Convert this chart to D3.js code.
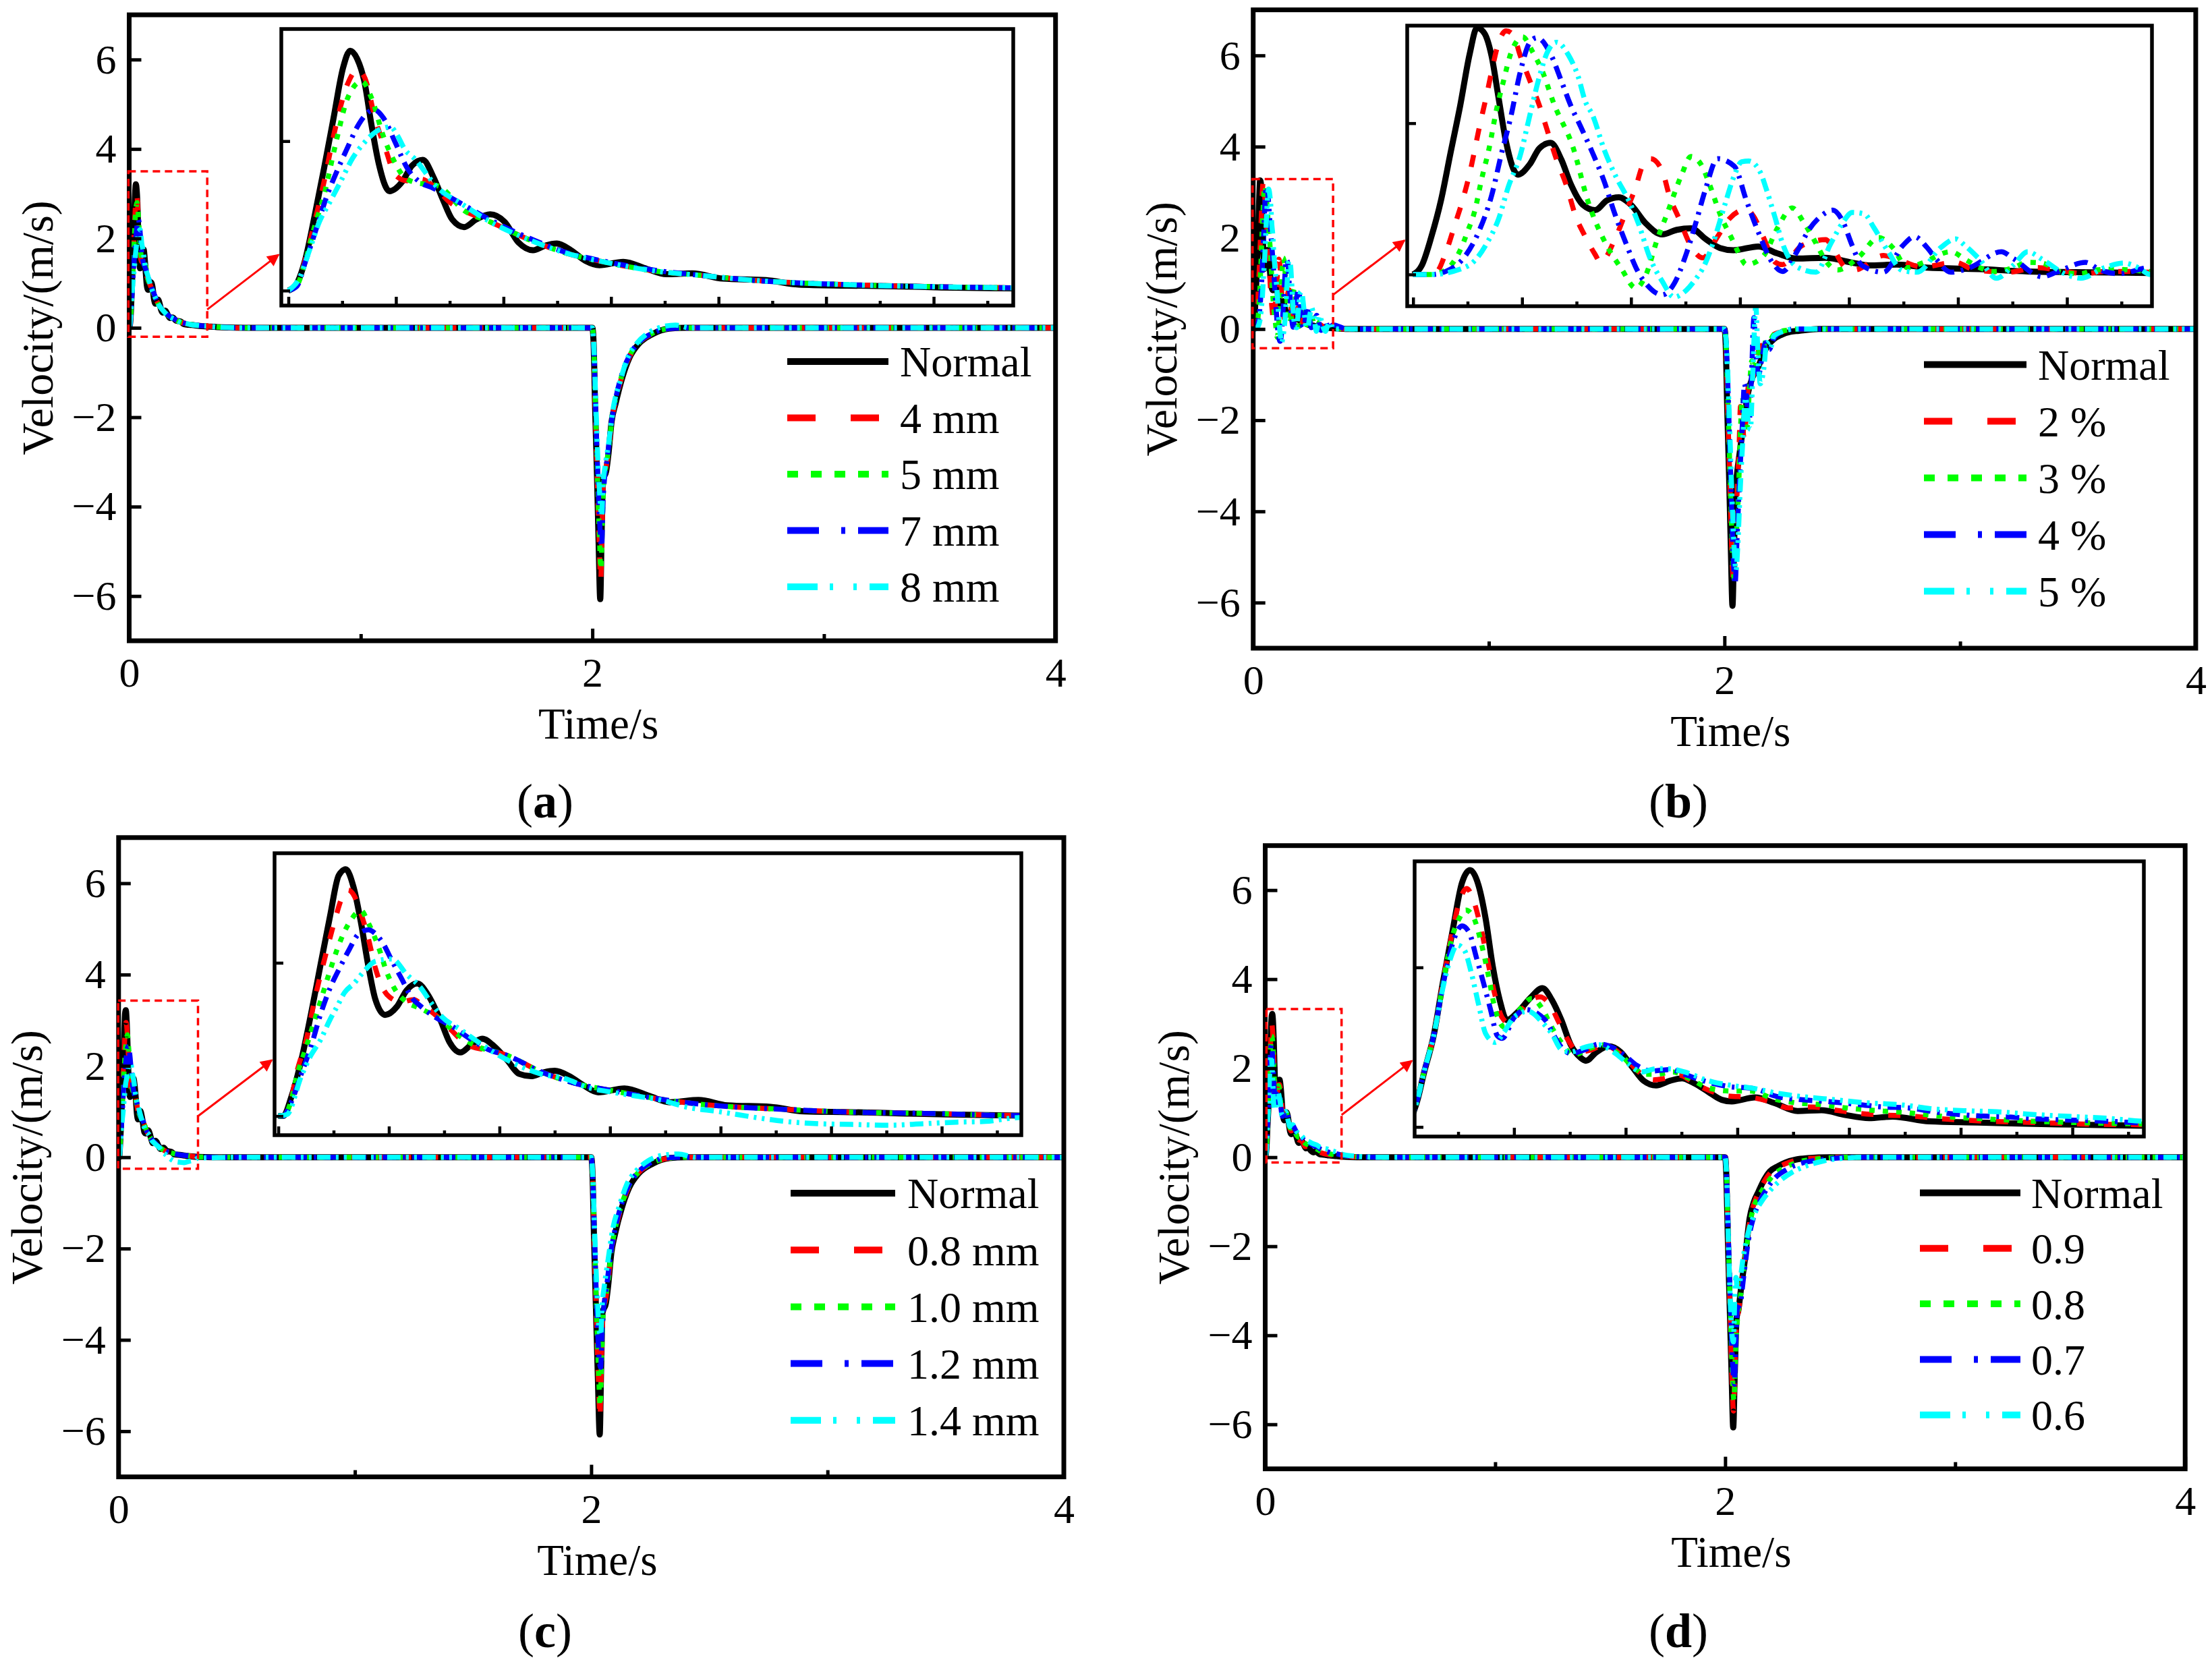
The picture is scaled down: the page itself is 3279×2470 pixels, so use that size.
<!DOCTYPE html>
<html>
<head>
<meta charset="utf-8">
<script src="https://cdn.jsdelivr.net/npm/d3@7"></script>
<style>
  body { margin: 0; background: #fff; }
  svg { display: block; }
  text { font-family: "Liberation Serif", "Times New Roman", serif; fill: #000; }
</style>
</head>
<body>
<svg id="chart" width="3279" height="2470"></svg>
<script>
// ---- data: [time (s), velocity (m/s)] ----

const aNormal = [[0,0],[0.004,0.1],[0.0077,0.4],[0.0122,1.0],[0.0166,1.64],[0.021,2.31],[0.0254,2.98],[0.0287,3.21],[0.032,3.1],[0.0353,2.8],[0.0386,2.22],[0.042,1.7],[0.047,1.33],[0.053,1.46],[0.0574,1.67],[0.0625,1.75],[0.0674,1.52],[0.0718,1.22],[0.0762,0.95],[0.0817,0.85],[0.0872,0.95],[0.0938,1.02],[0.1005,0.92],[0.1071,0.64],[0.1137,0.54],[0.1192,0.6],[0.1248,0.63],[0.1314,0.54],[0.138,0.4],[0.1446,0.34],[0.1557,0.385],[0.1667,0.29],[0.1756,0.22],[0.1877,0.23],[0.202,0.16],[0.222,0.14],[0.2374,0.08],[0.2595,0.067],[0.2815,0.058],[0.3036,0.042],[0.337,0.03],[0.4,0.01],[0.5,0],
  [2.0,0],[2.005,-0.3],[2.012,-1.8],[2.02,-3.3],[2.027,-4.8],[2.034,-6.07],[2.04,-4.6],[2.046,-3.4],[2.06,-3.2],[2.07,-2.8],[2.083,-2.1],[2.1,-1.7],[2.13,-1.1],[2.16,-0.67],[2.2,-0.36],[2.26,-0.14],[2.33,-0.02],[2.4,0],[4,0]];
const a4mm = [[0,0],[0.004,0.08],[0.0077,0.4],[0.0122,0.92],[0.0166,1.46],[0.021,2.07],[0.0276,2.77],[0.032,2.95],[0.0353,2.86],[0.0408,2.25],[0.0452,1.89],[0.0496,1.55],[0.0552,1.47],[0.0618,1.49],[0.0674,1.4],[0.0751,1.18],[0.0817,1.07],[0.0938,0.92],[0.1137,0.66],[0.127,0.52],[0.149,0.37],[0.171,0.26],[0.1932,0.2],[0.2153,0.14],[0.2595,0.08],[0.3036,0.05],[0.337,0.036],[0.4,0.01],[0.5,0],
  [2.0,0],[2.006,-0.4],[2.013,-1.9],[2.021,-3.3],[2.029,-4.7],[2.036,-5.65],[2.042,-4.5],[2.048,-3.4],[2.06,-3.1],[2.07,-2.75],[2.083,-2.1],[2.1,-1.65],[2.13,-1.05],[2.16,-0.65],[2.2,-0.35],[2.26,-0.13],[2.33,-0.02],[2.4,0],[4,0]];
const a5mm = [[0,0],[0.004,0.07],[0.0077,0.38],[0.0122,0.86],[0.0166,1.28],[0.0221,1.98],[0.0276,2.58],[0.0342,2.8],[0.0386,2.58],[0.0441,2.07],[0.0485,1.77],[0.0529,1.55],[0.0585,1.45],[0.0696,1.4],[0.0817,1.07],[0.0938,0.92],[0.1137,0.66],[0.127,0.52],[0.149,0.37],[0.171,0.26],[0.1932,0.2],[0.2153,0.14],[0.2595,0.08],[0.3036,0.05],[0.337,0.036],[0.4,0.01],[0.5,0],
  [2.0,0],[2.006,-0.4],[2.014,-1.9],[2.022,-3.3],[2.03,-4.6],[2.037,-5.4],[2.043,-4.4],[2.05,-3.4],[2.062,-3.0],[2.072,-2.65],[2.085,-2.0],[2.1,-1.6],[2.13,-1.02],[2.16,-0.63],[2.2,-0.34],[2.26,-0.12],[2.33,-0.02],[2.4,0],[4,0]];
const a7mm = [[0,0],[0.004,0.06],[0.0077,0.37],[0.0122,0.76],[0.0177,1.25],[0.0232,1.64],[0.0276,1.92],[0.032,2.19],[0.0398,2.42],[0.0442,2.31],[0.0497,1.98],[0.0552,1.64],[0.0607,1.46],[0.0674,1.37],[0.0806,1.16],[0.0917,0.98],[0.1137,0.68],[0.127,0.53],[0.149,0.38],[0.171,0.27],[0.1932,0.2],[0.2153,0.14],[0.2595,0.08],[0.3036,0.05],[0.337,0.036],[0.4,0.01],[0.5,0],
  [2.0,0],[2.006,-0.4],[2.014,-1.8],[2.023,-3.2],[2.032,-4.4],[2.04,-4.9],[2.046,-3.9],[2.052,-3.4],[2.065,-2.9],[2.08,-2.2],[2.1,-1.6],[2.13,-1.0],[2.16,-0.62],[2.2,-0.33],[2.26,-0.12],[2.33,-0.02],[2.4,0],[4,0]];
const a8mm = [[0,0],[0.0055,0.19],[0.0099,0.55],[0.0144,0.92],[0.0188,1.16],[0.0243,1.46],[0.0298,1.77],[0.0353,1.98],[0.0409,2.13],[0.0475,2.19],[0.0508,2.07],[0.0541,1.89],[0.0585,1.77],[0.0696,1.37],[0.0806,1.16],[0.0938,0.92],[0.1137,0.66],[0.127,0.52],[0.149,0.37],[0.171,0.26],[0.1932,0.2],[0.2153,0.14],[0.2595,0.08],[0.3036,0.05],[0.337,0.036],[0.4,0.01],[0.5,0],
  [2.0,0],[2.006,-0.35],[2.015,-1.7],[2.025,-3.1],[2.034,-3.9],[2.04,-4.2],[2.046,-3.5],[2.055,-3.1],[2.07,-2.6],[2.09,-1.8],[2.12,-1.2],[2.15,-0.7],[2.19,-0.36],[2.24,-0.12],[2.3,0.02],[2.36,0.06],[2.42,0],[4,0]];

const bNormal = [[0,0],[0.004,0.12],[0.0084,0.5],[0.0128,0.98],[0.0172,1.61],[0.0216,2.23],[0.026,2.92],[0.0293,3.26],[0.0327,3.19],[0.036,2.89],[0.0393,2.32],[0.0426,1.76],[0.0481,1.32],[0.0536,1.46],[0.058,1.67],[0.0631,1.74],[0.068,1.52],[0.0724,1.19],[0.0779,0.92],[0.0834,0.85],[0.089,0.98],[0.0944,1.02],[0.1,0.92],[0.1066,0.68],[0.1143,0.53],[0.121,0.59],[0.1275,0.61],[0.1342,0.47],[0.1408,0.35],[0.147,0.32],[0.1584,0.37],[0.167,0.28],[0.176,0.21],[0.189,0.22],[0.2026,0.15],[0.209,0.12],[0.222,0.13],[0.2357,0.09],[0.26,0.07],[0.282,0.04],[0.304,0.03],[0.338,0.02],[0.4,0],[0.5,0],
  [2.0,0],[2.005,-0.3],[2.012,-1.8],[2.02,-3.3],[2.027,-4.8],[2.034,-6.07],[2.041,-4.7],[2.048,-3.5],[2.054,-3.14],[2.065,-2.7],[2.075,-2.3],[2.087,-1.86],[2.1,-1.4],[2.12,-1.05],[2.144,-0.82],[2.165,-0.55],[2.182,-0.38],[2.21,-0.22],[2.24,-0.13],[2.28,-0.06],[2.316,-0.04],[2.4,0],[4,0]];
const b2pct = [[0,0],[0.004,0],[0.0106,0.03],[0.015,0.29],[0.0194,0.68],[0.0227,0.98],[0.026,1.34],[0.0305,1.96],[0.0338,2.38],[0.036,2.68],[0.0393,3.07],[0.0426,3.22],[0.0459,3.17],[0.0492,2.89],[0.0536,2.56],[0.058,2.23],[0.0613,1.93],[0.0658,1.52],[0.0702,1.19],[0.0746,0.77],[0.079,0.5],[0.0834,0.27],[0.0861,0.16],[0.0922,0.44],[0.0977,0.83],[0.1022,1.16],[0.1055,1.45],[0.109,1.53],[0.1143,1.37],[0.1176,1.04],[0.122,0.74],[0.1286,0.32],[0.133,0.22],[0.1397,0.5],[0.1452,0.74],[0.1529,0.86],[0.1562,0.77],[0.1606,0.5],[0.1662,0.16],[0.1695,0.13],[0.1783,0.38],[0.1893,0.46],[0.1926,0.35],[0.1981,0.1],[0.2026,0.06],[0.2158,0.25],[0.2224,0.2],[0.2335,0.1],[0.2489,0.16],[0.2577,0.06],[0.2732,0.03],[0.2864,0.09],[0.2952,0.06],[0.3085,0.01],[0.3173,0.04],[0.3261,0.04],[0.3372,0.03],[0.4,0],[0.5,0],
  [2.0,0],[2.007,-0.5],[2.015,-2.0],[2.024,-3.6],[2.032,-5.0],[2.039,-5.6],[2.046,-4.6],[2.055,-3.4],[2.062,-2.6],[2.068,-1.7],[2.075,-1.9],[2.083,-2.4],[2.092,-1.9],[2.1,-1.3],[2.11,-0.95],[2.12,-1.05],[2.132,-0.75],[2.15,-0.4],[2.17,-0.32],[2.2,-0.15],[2.25,-0.05],[2.32,0],[4,0]];
const b3pct = [[0,0],[0.0084,0],[0.015,0.06],[0.0216,0.32],[0.0249,0.56],[0.0282,0.83],[0.0316,1.28],[0.0349,1.67],[0.0382,2.17],[0.0415,2.56],[0.0448,2.92],[0.0503,3.14],[0.0547,2.95],[0.0591,2.7],[0.0647,2.25],[0.0735,1.67],[0.0801,0.98],[0.0889,0.38],[0.0955,0.08],[0.1022,-0.18],[0.1066,-0.02],[0.1121,0.47],[0.1165,0.8],[0.1231,1.31],[0.1275,1.56],[0.132,1.46],[0.1364,1.16],[0.1408,0.8],[0.1463,0.47],[0.1496,0.27],[0.1529,0.13],[0.1606,0.24],[0.1673,0.62],[0.1739,0.88],[0.1794,0.68],[0.1849,0.41],[0.1893,0.18],[0.1948,0.06],[0.2048,0.24],[0.2136,0.49],[0.2202,0.35],[0.2268,0.09],[0.2335,0.15],[0.2467,0.3],[0.2533,0.2],[0.2599,0.09],[0.2666,0.04],[0.2754,0.09],[0.282,0.16],[0.2886,0.15],[0.2975,0.03],[0.3063,0.01],[0.313,0.06],[0.3217,0.07],[0.3372,0.04],[0.4,0],[0.5,0],
  [2.0,0],[2.008,-0.5],[2.017,-2.0],[2.026,-3.6],[2.035,-5.0],[2.042,-5.5],[2.05,-4.6],[2.06,-3.5],[2.068,-2.2],[2.076,-1.5],[2.086,-2.0],[2.096,-2.15],[2.106,-1.3],[2.116,-0.7],[2.126,-0.9],[2.14,-0.62],[2.16,-0.3],[2.18,-0.36],[2.21,-0.12],[2.26,-0.03],[2.32,0],[4,0]];
const b4pct = [[0,0],[0.0084,0],[0.0172,0.07],[0.0238,0.24],[0.0305,0.59],[0.036,1.04],[0.0404,1.58],[0.0448,2.08],[0.0492,2.68],[0.0536,3.07],[0.0569,3.13],[0.0635,2.89],[0.068,2.56],[0.0724,2.23],[0.0768,1.96],[0.0823,1.61],[0.0878,1.22],[0.0922,0.83],[0.0977,0.41],[0.1033,0.03],[0.1077,-0.15],[0.1143,-0.27],[0.1198,-0.12],[0.1253,0.27],[0.1297,0.68],[0.1342,1.13],[0.1397,1.53],[0.1474,1.43],[0.1529,0.98],[0.1584,0.56],[0.165,0.15],[0.1695,0.04],[0.1761,0.3],[0.1816,0.59],[0.1871,0.77],[0.1926,0.85],[0.197,0.71],[0.2015,0.38],[0.2059,0.12],[0.2158,0.03],[0.2246,0.38],[0.2301,0.5],[0.2357,0.36],[0.2401,0.2],[0.2467,0.03],[0.2555,0.09],[0.2699,0.3],[0.2754,0.21],[0.2886,-0.03],[0.2952,0.03],[0.3085,0.16],[0.3151,0.06],[0.3239,0.01],[0.3383,0.09],[0.4,0],[0.5,0],
  [2.0,0],[2.009,-0.5],[2.019,-2.0],[2.029,-3.7],[2.038,-5.1],[2.045,-5.6],[2.054,-4.5],[2.065,-3.2],[2.075,-2.2],[2.085,-1.2],[2.095,-1.6],[2.105,-2.0],[2.115,-1.0],[2.125,0.25],[2.133,-0.5],[2.145,-1.0],[2.16,-0.6],[2.175,-0.3],[2.19,-0.45],[2.21,-0.2],[2.25,-0.05],[2.3,0],[4,0]];
const b5pct = [[0,0],[0.0084,0],[0.0216,0.07],[0.0282,0.18],[0.0338,0.41],[0.0393,0.74],[0.0437,1.16],[0.0492,1.58],[0.0536,2.11],[0.058,2.62],[0.0613,2.92],[0.0658,3.07],[0.0713,2.9],[0.0757,2.62],[0.079,2.29],[0.0823,2.11],[0.0878,1.64],[0.0933,1.28],[0.0989,0.98],[0.1033,0.68],[0.1088,0.21],[0.1143,-0.09],[0.1198,-0.3],[0.1253,-0.21],[0.1297,-0.06],[0.1331,0.09],[0.1386,0.5],[0.143,0.92],[0.1474,1.31],[0.1507,1.49],[0.154,1.5],[0.1595,1.34],[0.1617,1.16],[0.1662,0.74],[0.1695,0.41],[0.1761,0.1],[0.1849,0.03],[0.1915,0.4],[0.197,0.68],[0.2015,0.82],[0.207,0.8],[0.2114,0.62],[0.218,0.3],[0.2246,0.05],[0.2312,0.03],[0.2423,0.36],[0.2489,0.47],[0.2533,0.38],[0.2599,0.2],[0.2677,-0.05],[0.2754,0.12],[0.282,0.3],[0.2886,0.2],[0.2997,0],[0.3063,-0.05],[0.3173,0.09],[0.3261,0.15],[0.3327,0.09],[0.3383,0],[0.4,0],[0.5,0],
  [2.0,0],[2.01,-0.5],[2.021,-2.0],[2.032,-3.7],[2.042,-4.9],[2.049,-5.3],[2.056,-4.8],[2.066,-3.6],[2.076,-2.6],[2.09,-1.5],[2.1,-2.0],[2.11,-2.2],[2.12,-1.0],[2.133,0.5],[2.141,-0.4],[2.152,-1.2],[2.166,-0.9],[2.18,-0.3],[2.195,-0.42],[2.21,-0.15],[2.25,-0.05],[2.3,0],[4,0]];

const cNormal = [[0,0],[0.0022,0],[0.006,0.26],[0.0104,0.73],[0.0147,1.32],[0.019,1.96],[0.0234,2.61],[0.0273,3.14],[0.0305,3.22],[0.034,2.99],[0.0374,2.52],[0.0407,1.96],[0.0439,1.52],[0.0483,1.32],[0.0537,1.43],[0.058,1.64],[0.0628,1.73],[0.0677,1.58],[0.0732,1.26],[0.0775,0.96],[0.0823,0.83],[0.0872,0.93],[0.0922,1.01],[0.098,0.9],[0.1035,0.73],[0.1089,0.55],[0.1143,0.52],[0.12,0.57],[0.125,0.59],[0.1316,0.52],[0.138,0.4],[0.1446,0.31],[0.1565,0.36],[0.168,0.26],[0.177,0.18],[0.19,0.21],[0.203,0.14],[0.2225,0.12],[0.2377,0.06],[0.259,0.05],[0.281,0.035],[0.3026,0.02],[0.335,0.006],[0.4,0],[0.5,0],
  [2.0,0],[2.005,-0.3],[2.012,-1.8],[2.02,-3.3],[2.028,-4.8],[2.036,-6.07],[2.042,-4.6],[2.048,-3.4],[2.062,-3.2],[2.072,-2.8],[2.085,-2.1],[2.1,-1.7],[2.13,-1.1],[2.16,-0.67],[2.2,-0.36],[2.26,-0.14],[2.33,-0.02],[2.4,0],[4,0]];
const c08mm = [[0,0],[0.0022,0],[0.006,0.24],[0.0082,0.55],[0.0126,0.99],[0.0169,1.58],[0.0212,2.08],[0.0255,2.55],[0.0288,2.85],[0.0316,2.95],[0.0342,2.88],[0.0374,2.64],[0.0407,2.32],[0.0439,1.93],[0.0472,1.67],[0.0504,1.55],[0.0558,1.49],[0.0613,1.52],[0.0645,1.46],[0.071,1.32],[0.0775,1.14],[0.0861,0.92],[0.098,0.84],[0.1035,0.79],[0.1186,0.58],[0.1338,0.43],[0.1511,0.33],[0.1684,0.24],[0.1857,0.17],[0.2052,0.12],[0.2268,0.09],[0.2593,0.05],[0.2918,0.035],[0.3351,0.006],[0.4,0],[0.5,0],
  [2.0,0],[2.006,-0.4],[2.013,-1.9],[2.021,-3.3],[2.03,-4.8],[2.037,-5.7],[2.043,-4.5],[2.05,-3.4],[2.062,-3.1],[2.072,-2.7],[2.085,-2.05],[2.1,-1.65],[2.13,-1.05],[2.16,-0.64],[2.2,-0.34],[2.26,-0.13],[2.33,-0.02],[2.4,0],[4,0]];
const c10mm = [[0,0],[0.0022,0],[0.006,0.22],[0.0082,0.5],[0.0126,0.9],[0.019,1.49],[0.0234,1.9],[0.0277,2.26],[0.032,2.52],[0.0374,2.68],[0.0407,2.52],[0.045,2.23],[0.0494,1.85],[0.0537,1.61],[0.058,1.49],[0.0645,1.4],[0.0732,1.26],[0.0818,1.05],[0.0905,0.9],[0.098,0.84],[0.1035,0.79],[0.1186,0.58],[0.1338,0.43],[0.1511,0.33],[0.1684,0.24],[0.1857,0.17],[0.2052,0.12],[0.2268,0.09],[0.2593,0.05],[0.2918,0.035],[0.3351,0.006],[0.4,0],[0.5,0],
  [2.0,0],[2.006,-0.4],[2.014,-1.9],[2.022,-3.3],[2.031,-4.7],[2.038,-5.45],[2.044,-4.4],[2.051,-3.4],[2.063,-3.0],[2.073,-2.65],[2.086,-2.0],[2.1,-1.6],[2.13,-1.02],[2.16,-0.62],[2.2,-0.33],[2.26,-0.12],[2.33,-0.02],[2.4,0],[4,0]];
const c12mm = [[0,0],[0.0022,0],[0.0061,0.2],[0.0104,0.55],[0.0147,0.9],[0.019,1.32],[0.0234,1.67],[0.0277,1.93],[0.032,2.17],[0.0364,2.38],[0.0407,2.43],[0.0439,2.38],[0.0472,2.26],[0.0515,2.02],[0.0558,1.79],[0.0602,1.55],[0.0645,1.43],[0.071,1.29],[0.0786,1.17],[0.0861,1.02],[0.0948,0.87],[0.1035,0.79],[0.1186,0.58],[0.1338,0.43],[0.1511,0.33],[0.1684,0.24],[0.1857,0.17],[0.2052,0.12],[0.2268,0.09],[0.2593,0.05],[0.2918,0.035],[0.3351,0.006],[0.4,0],[0.5,0],
  [2.0,0],[2.006,-0.4],[2.014,-1.8],[2.023,-3.2],[2.032,-4.3],[2.04,-4.6],[2.046,-3.8],[2.053,-3.3],[2.066,-2.8],[2.08,-2.2],[2.1,-1.6],[2.13,-1.0],[2.16,-0.6],[2.2,-0.32],[2.26,-0.1],[2.33,-0.01],[2.4,0],[4,0]];
const c14mm = [[0,0],[0.0039,0.02],[0.0104,0.52],[0.0147,0.79],[0.019,0.99],[0.0234,1.26],[0.0266,1.43],[0.0299,1.61],[0.0342,1.73],[0.0385,1.88],[0.0439,2.02],[0.0515,2.05],[0.058,1.85],[0.0645,1.67],[0.0688,1.49],[0.0742,1.29],[0.0818,1.14],[0.097,0.84],[0.1078,0.67],[0.1186,0.55],[0.1294,0.49],[0.1403,0.37],[0.1511,0.31],[0.1619,0.26],[0.1727,0.21],[0.1857,0.11],[0.1987,0.06],[0.216,-0.02],[0.229,-0.07],[0.2442,-0.1],[0.2593,-0.11],[0.2766,-0.12],[0.2918,-0.1],[0.3069,-0.08],[0.3199,-0.07],[0.3351,-0.02],[0.4,-0.01],[0.5,0],
  [2.0,0],[2.006,-0.35],[2.015,-1.7],[2.025,-3.0],[2.034,-3.8],[2.04,-3.9],[2.047,-3.2],[2.056,-2.8],[2.07,-2.3],[2.09,-1.6],[2.12,-1.05],[2.15,-0.6],[2.19,-0.3],[2.24,-0.08],[2.3,0.04],[2.37,0.07],[2.44,0],[4,0]];

const dNormal = [[0,0],[0.004,0.12],[0.0066,0.32],[0.0098,0.69],[0.014,1.14],[0.0182,1.82],[0.0225,2.46],[0.0267,3.06],[0.0303,3.22],[0.0341,3.03],[0.0373,2.61],[0.0405,2.01],[0.0436,1.59],[0.0468,1.34],[0.052,1.45],[0.0574,1.62],[0.0627,1.74],[0.067,1.59],[0.0712,1.34],[0.0754,1.03],[0.0797,0.87],[0.0822,0.83],[0.087,0.94],[0.0924,1.01],[0.0977,0.94],[0.103,0.75],[0.108,0.58],[0.1136,0.52],[0.12,0.58],[0.1252,0.61],[0.1305,0.55],[0.137,0.44],[0.143,0.34],[0.1475,0.32],[0.158,0.37],[0.1665,0.3],[0.177,0.2],[0.1877,0.21],[0.1983,0.15],[0.209,0.11],[0.2195,0.13],[0.236,0.07],[0.2576,0.056],[0.279,0.04],[0.3,0.03],[0.3318,0.015],[0.4,0],[0.5,0],
  [2.0,0],[2.005,-0.4],[2.012,-1.9],[2.02,-3.4],[2.028,-4.9],[2.035,-6.07],[2.042,-4.8],[2.05,-3.6],[2.057,-3.45],[2.07,-2.9],[2.086,-2.29],[2.106,-1.38],[2.125,-1.0],[2.145,-0.77],[2.17,-0.5],[2.194,-0.32],[2.23,-0.2],[2.262,-0.12],[2.31,-0.05],[2.36,-0.02],[2.45,0],[4,0]];
const d09 = [[0,0],[0.004,0.12],[0.0066,0.35],[0.0097,0.69],[0.014,1.14],[0.0182,1.82],[0.0225,2.46],[0.0256,2.83],[0.0288,2.99],[0.032,2.83],[0.0352,2.49],[0.0383,2.07],[0.0415,1.65],[0.0447,1.37],[0.0479,1.3],[0.0521,1.42],[0.0574,1.59],[0.0617,1.63],[0.0659,1.54],[0.0701,1.31],[0.0744,1.08],[0.0786,0.94],[0.0849,0.97],[0.0903,1.03],[0.0966,0.94],[0.1019,0.8],[0.1072,0.66],[0.1125,0.59],[0.1178,0.61],[0.1242,0.65],[0.1305,0.55],[0.139,0.44],[0.1453,0.39],[0.156,0.37],[0.1644,0.32],[0.1729,0.24],[0.1835,0.25],[0.1941,0.21],[0.2047,0.17],[0.2153,0.15],[0.2258,0.14],[0.2428,0.1],[0.264,0.07],[0.2831,0.056],[0.3042,0.037],[0.3318,0.028],[0.4,0.005],[0.5,0],
  [2.0,0],[2.006,-0.4],[2.013,-1.9],[2.021,-3.4],[2.029,-4.9],[2.036,-5.7],[2.043,-4.6],[2.05,-3.7],[2.06,-3.4],[2.075,-2.7],[2.09,-2.1],[2.11,-1.35],[2.13,-0.98],[2.15,-0.75],[2.175,-0.5],[2.2,-0.33],[2.24,-0.2],[2.28,-0.11],[2.33,-0.05],[2.4,-0.02],[2.5,0],[4,0]];
const d08 = [[0,0],[0.004,0.12],[0.0066,0.33],[0.0097,0.69],[0.014,1.14],[0.0182,1.8],[0.0225,2.4],[0.0256,2.62],[0.0284,2.72],[0.032,2.62],[0.0352,2.32],[0.0383,1.93],[0.0415,1.48],[0.0458,1.25],[0.051,1.42],[0.058,1.61],[0.0627,1.48],[0.0669,1.25],[0.0712,1.06],[0.0765,0.9],[0.0828,0.97],[0.0892,1.03],[0.0966,0.92],[0.103,0.77],[0.1083,0.66],[0.1136,0.66],[0.121,0.69],[0.1284,0.61],[0.1369,0.49],[0.1475,0.45],[0.1559,0.45],[0.1665,0.35],[0.1771,0.3],[0.1877,0.28],[0.1983,0.24],[0.2153,0.2],[0.2258,0.18],[0.2428,0.13],[0.2619,0.1],[0.2788,0.076],[0.3,0.056],[0.3318,0.037],[0.4,0.008],[0.5,0],
  [2.0,0],[2.006,-0.4],[2.014,-1.9],[2.022,-3.4],[2.031,-4.8],[2.038,-5.45],[2.046,-4.3],[2.054,-3.6],[2.065,-3.2],[2.08,-2.5],[2.095,-1.95],[2.115,-1.3],[2.135,-0.98],[2.16,-0.75],[2.186,-0.55],[2.21,-0.4],[2.25,-0.25],[2.29,-0.16],[2.34,-0.08],[2.42,-0.03],[2.52,0],[4,0]];
const d07 = [[0,0],[0.004,0.12],[0.0066,0.33],[0.0097,0.69],[0.014,1.14],[0.0182,1.78],[0.0225,2.3],[0.0267,2.52],[0.0299,2.44],[0.0331,2.13],[0.0362,1.82],[0.0394,1.48],[0.0426,1.14],[0.0447,1.11],[0.05,1.37],[0.0553,1.47],[0.0606,1.42],[0.0648,1.31],[0.068,1.14],[0.0712,1.0],[0.0754,0.92],[0.0818,0.97],[0.0881,1.04],[0.0945,0.99],[0.0998,0.89],[0.1051,0.77],[0.1114,0.7],[0.1199,0.72],[0.1263,0.66],[0.1347,0.58],[0.1453,0.51],[0.158,0.48],[0.1665,0.39],[0.1792,0.34],[0.1898,0.32],[0.2047,0.28],[0.2153,0.25],[0.2258,0.24],[0.2407,0.18],[0.2576,0.14],[0.2682,0.13],[0.2852,0.1],[0.3,0.085],[0.317,0.07],[0.3318,0.048],[0.4,0.01],[0.5,0],
  [2.0,0],[2.006,-0.4],[2.014,-1.8],[2.023,-3.3],[2.032,-4.6],[2.04,-5.1],[2.046,-4.2],[2.053,-3.4],[2.065,-3.3],[2.08,-2.7],[2.1,-1.9],[2.125,-1.32],[2.15,-1.0],[2.18,-0.72],[2.22,-0.45],[2.26,-0.3],[2.3,-0.19],[2.36,-0.1],[2.43,-0.05],[2.55,0],[4,0]];
const d06 = [[0,0],[0.004,0.12],[0.0066,0.33],[0.0097,0.69],[0.014,1.14],[0.0182,1.75],[0.0214,2.1],[0.0246,2.28],[0.0277,2.22],[0.0309,1.93],[0.0341,1.54],[0.0373,1.17],[0.0415,1.06],[0.0458,1.2],[0.05,1.38],[0.0563,1.45],[0.0627,1.31],[0.0669,1.17],[0.0712,0.97],[0.0754,0.94],[0.0818,1.0],[0.0881,1.03],[0.0945,0.94],[0.1008,0.8],[0.1072,0.69],[0.1136,0.73],[0.1189,0.73],[0.1263,0.69],[0.1369,0.58],[0.1475,0.52],[0.1559,0.49],[0.1686,0.42],[0.1792,0.38],[0.1941,0.34],[0.2047,0.31],[0.2258,0.27],[0.2364,0.23],[0.2555,0.2],[0.2661,0.19],[0.2831,0.155],[0.3,0.13],[0.3148,0.11],[0.3318,0.07],[0.4,0.02],[0.5,0],
  [2.0,0],[2.006,-0.4],[2.014,-1.9],[2.022,-3.2],[2.03,-4.0],[2.036,-4.15],[2.042,-3.1],[2.047,-2.7],[2.053,-3.0],[2.06,-2.9],[2.08,-2.2],[2.1,-1.7],[2.13,-1.25],[2.16,-0.98],[2.2,-0.72],[2.24,-0.52],[2.29,-0.34],[2.35,-0.2],[2.43,-0.08],[2.52,-0.02],[2.6,0],[4,0]];

const aNames = ["Normal", "4 mm", "5 mm", "7 mm", "8 mm"];
const bNames = ["Normal", "2 %", "3 %", "4 %", "5 %"];
const cNames = ["Normal", "0.8 mm", "1.0 mm", "1.2 mm", "1.4 mm"];
const dNames = ["Normal", "0.9", "0.8", "0.7", "0.6"];

const xTicks = [0, 2, 4];
const xMinorTicks = [1, 3];
const yTicks = [-6, -4, -2, 0, 2, 4, 6];
const insetYTicks = [0, 2];

// ---- styles / layout ----
const styles = [
  { color: "#000000", width: 9,   dash: null,               legendDash: null },
  { color: "#ff0000", width: 7.5, dash: "18,22",            legendDash: "42,52" },
  { color: "#00ff00", width: 7.5, dash: "8,12",             legendDash: "16,19" },
  { color: "#0000ff", width: 7.5, dash: "20,10,4,10",       legendDash: "47,33,6,19" },
  { color: "#00ffff", width: 7.5, dash: "20,8,4,8,4,8",     legendDash: "45,18,5,30,5,19" }
];

const panels = [
  { key: "a", series: [aNormal, a4mm, a5mm, a7mm, a8mm], names: aNames,
    frame: { x0: 191.5, x1: 1564.7, y0: 22, y1: 950 },
    inset: { x0: 417, x1: 1502, y0: 43, y1: 453, tDom: [-0.0033, 0.337], vDom: [-0.2, 3.5] },
    legend: { x0: 1167, x1: 1317, tx: 1334, y: 536, dy: 83.5 },
    arrow: [0.41, 0.48], label: { x: 808, y: 1212 } },
  { key: "b", series: [bNormal, b2pct, b3pct, b4pct, b5pct], names: bNames,
    frame: { x0: 1857.7, x1: 3254.9, y0: 14.6, y1: 961 },
    inset: { x0: 2086, x1: 3190, y0: 38, y1: 454, tDom: [-0.0027, 0.339], vDom: [-0.42, 3.29] },
    legend: { x0: 2852, x1: 3004, tx: 3021, y: 540.6, dy: 84 },
    arrow: [0.75, 0.45], label: { x: 2488, y: 1212 } },
  { key: "c", series: [cNormal, c08mm, c10mm, c12mm, c14mm], names: cNames,
    frame: { x0: 175.8, x1: 1577, y0: 1241.8, y1: 2189.6 },
    inset: { x0: 407, x1: 1514, y0: 1265, y1: 1683, tDom: [-0.0017, 0.336], vDom: [-0.25, 3.43] },
    legend: { x0: 1172, x1: 1327, tx: 1345, y: 1769, dy: 84.2 },
    arrow: [0.9, 0.73], label: { x: 808, y: 2442 } },
  { key: "d", series: [dNormal, d09, d08, d07, d06], names: dNames,
    frame: { x0: 1875.5, x1: 3239.2, y0: 1253.7, y1: 2177.7 },
    inset: { x0: 2097, x1: 3178, y0: 1277, y1: 1685, tDom: [0.0055, 0.332], vDom: [-0.12, 3.33] },
    legend: { x0: 2846, x1: 2995, tx: 3011, y: 1768.5, dy: 82.3 },
    arrow: [0.95, 0.83], label: { x: 2488, y: 2442 } }
];

const svg = d3.select("#chart");
const defs = svg.append("defs");
defs.append("marker")
  .attr("id", "arrowhead")
  .attr("viewBox", "0 0 10 10")
  .attr("refX", 9).attr("refY", 5)
  .attr("markerWidth", 8).attr("markerHeight", 6)
  .attr("markerUnits", "strokeWidth")
  .attr("orient", "auto")
  .append("path").attr("d", "M0,0L10,5L0,10z").attr("fill", "#ff0000");

function styleAxis(sel, width) {
  sel.select(".domain").remove();
  sel.selectAll(".tick line").attr("stroke", "#000").attr("stroke-width", width);
  sel.selectAll(".tick text").attr("font-size", 62).attr("fill", "#000")
    .style("font-family", '"Liberation Serif","Times New Roman",serif');
}

function drawCurves(g, series, x, y, clipId) {
  const line = d3.line()
    .x(d => x(d[0]))
    .y(d => y(d[1]))
    .curve(d3.curveMonotoneX);
  g.append("g").attr("clip-path", `url(#${clipId})`)
    .selectAll("path").data(series).join("path")
    .attr("d", line)
    .attr("fill", "none")
    .attr("stroke", (d, i) => styles[i].color)
    .attr("stroke-width", (d, i) => styles[i].width)
    .attr("stroke-dasharray", (d, i) => styles[i].dash)
    .attr("stroke-linejoin", "round");
}

panels.forEach(p => {
  const f = p.frame;
  const g = svg.append("g").attr("class", "panel-" + p.key);

  const x = d3.scaleLinear().domain([0, 4]).range([f.x0, f.x1]);
  const y = d3.scaleLinear().domain([-7, 7]).range([f.y1, f.y0]);

  defs.append("clipPath").attr("id", "clip-" + p.key)
    .append("rect").attr("x", f.x0).attr("y", f.y0)
    .attr("width", f.x1 - f.x0).attr("height", f.y1 - f.y0);

  drawCurves(g, p.series, x, y, "clip-" + p.key);

  // main axes (ticks pointing inward)
  g.append("g").attr("transform", `translate(0,${f.y1})`)
    .call(d3.axisBottom(x).tickValues(xTicks).tickSizeInner(-18).tickSizeOuter(0)
      .tickPadding(24).tickFormat(d3.format("d")))
    .call(s => styleAxis(s, 5));
  g.append("g").attr("transform", `translate(0,${f.y1})`)
    .call(d3.axisBottom(x).tickValues(xMinorTicks).tickSizeInner(-10).tickSizeOuter(0).tickFormat(""))
    .call(s => styleAxis(s, 5));
  g.append("g").attr("transform", `translate(${f.x0},0)`)
    .call(d3.axisLeft(y).tickValues(yTicks).tickSizeInner(-18).tickSizeOuter(0)
      .tickPadding(19).tickFormat(d3.format("d")))
    .call(s => styleAxis(s, 5));

  g.append("rect").attr("x", f.x0).attr("y", f.y0)
    .attr("width", f.x1 - f.x0).attr("height", f.y1 - f.y0)
    .attr("fill", "none").attr("stroke", "#000").attr("stroke-width", 7);

  // axis titles
  g.append("text")
    .attr("transform", `translate(${f.x0 - 114},${y(0)}) rotate(-90)`)
    .attr("text-anchor", "middle").attr("font-size", 66)
    .text("Velocity/(m/s)");
  g.append("text")
    .attr("x", (f.x0 + f.x1) / 2 + 9).attr("y", f.y1 + 145)
    .attr("text-anchor", "middle").attr("font-size", 65)
    .text("Time/s");

  // sub-figure label
  const lab = g.append("text")
    .attr("x", p.label.x).attr("y", p.label.y)
    .attr("text-anchor", "middle").attr("font-size", 72);
  lab.append("tspan").text("(");
  lab.append("tspan").attr("font-weight", "bold").text(p.key);
  lab.append("tspan").text(")");

  // zoom box + arrow
  const ins = p.inset;
  g.append("rect")
    .attr("x", x(ins.tDom[0])).attr("y", y(ins.vDom[1]))
    .attr("width", x(ins.tDom[1]) - x(ins.tDom[0]))
    .attr("height", y(ins.vDom[0]) - y(ins.vDom[1]))
    .attr("fill", "none").attr("stroke", "#ff0000")
    .attr("stroke-width", 3.5).attr("stroke-dasharray", "11,7");

  const ix = d3.scaleLinear().domain(ins.tDom).range([ins.x0, ins.x1]);
  const iy = d3.scaleLinear().domain(ins.vDom).range([ins.y1, ins.y0]);

  g.append("line")
    .attr("x1", x(ins.tDom[1])).attr("y1", y(p.arrow[0]))
    .attr("x2", ins.x0 - 4).attr("y2", iy(p.arrow[1]))
    .attr("stroke", "#ff0000").attr("stroke-width", 3)
    .attr("marker-end", "url(#arrowhead)");

  // inset
  const ig = g.append("g").attr("class", "inset");
  ig.append("rect").attr("x", ins.x0).attr("y", ins.y0)
    .attr("width", ins.x1 - ins.x0).attr("height", ins.y1 - ins.y0)
    .attr("fill", "#fff");
  defs.append("clipPath").attr("id", "iclip-" + p.key)
    .append("rect").attr("x", ins.x0).attr("y", ins.y0)
    .attr("width", ins.x1 - ins.x0).attr("height", ins.y1 - ins.y0);
  drawCurves(ig, p.series, ix, iy, "iclip-" + p.key);

  const iTicks = d3.range(0, 14).map(k => k * 0.025).filter(t => t >= ins.tDom[0] && t <= ins.tDom[1]);
  const isMajor = t => Math.abs(Math.round(t / 0.05) * 0.05 - t) < 1e-6;
  ig.append("g").attr("transform", `translate(0,${ins.y1})`)
    .call(d3.axisBottom(ix).tickValues(iTicks.filter(isMajor)).tickSizeInner(-13).tickSizeOuter(0).tickFormat(""))
    .call(s => styleAxis(s, 4.5));
  ig.append("g").attr("transform", `translate(0,${ins.y1})`)
    .call(d3.axisBottom(ix).tickValues(iTicks.filter(t => !isMajor(t))).tickSizeInner(-7).tickSizeOuter(0).tickFormat(""))
    .call(s => styleAxis(s, 4.5));
  ig.append("g").attr("transform", `translate(${ins.x0},0)`)
    .call(d3.axisLeft(iy).tickValues(insetYTicks).tickSizeInner(-13).tickSizeOuter(0).tickFormat(""))
    .call(s => styleAxis(s, 4.5));
  ig.append("rect").attr("x", ins.x0).attr("y", ins.y0)
    .attr("width", ins.x1 - ins.x0).attr("height", ins.y1 - ins.y0)
    .attr("fill", "none").attr("stroke", "#000").attr("stroke-width", 5.5);

  // legend
  const lg = g.append("g").attr("class", "legend");
  p.names.forEach((name, i) => {
    const ly = p.legend.y + i * p.legend.dy;
    lg.append("line")
      .attr("x1", p.legend.x0).attr("x2", p.legend.x1)
      .attr("y1", ly).attr("y2", ly)
      .attr("stroke", styles[i].color).attr("stroke-width", 10)
      .attr("stroke-dasharray", styles[i].legendDash);
    lg.append("text")
      .attr("x", p.legend.tx).attr("y", ly).attr("dy", "0.35em")
      .attr("font-size", 64).text(name);
  });
});
</script>
</body>
</html>
